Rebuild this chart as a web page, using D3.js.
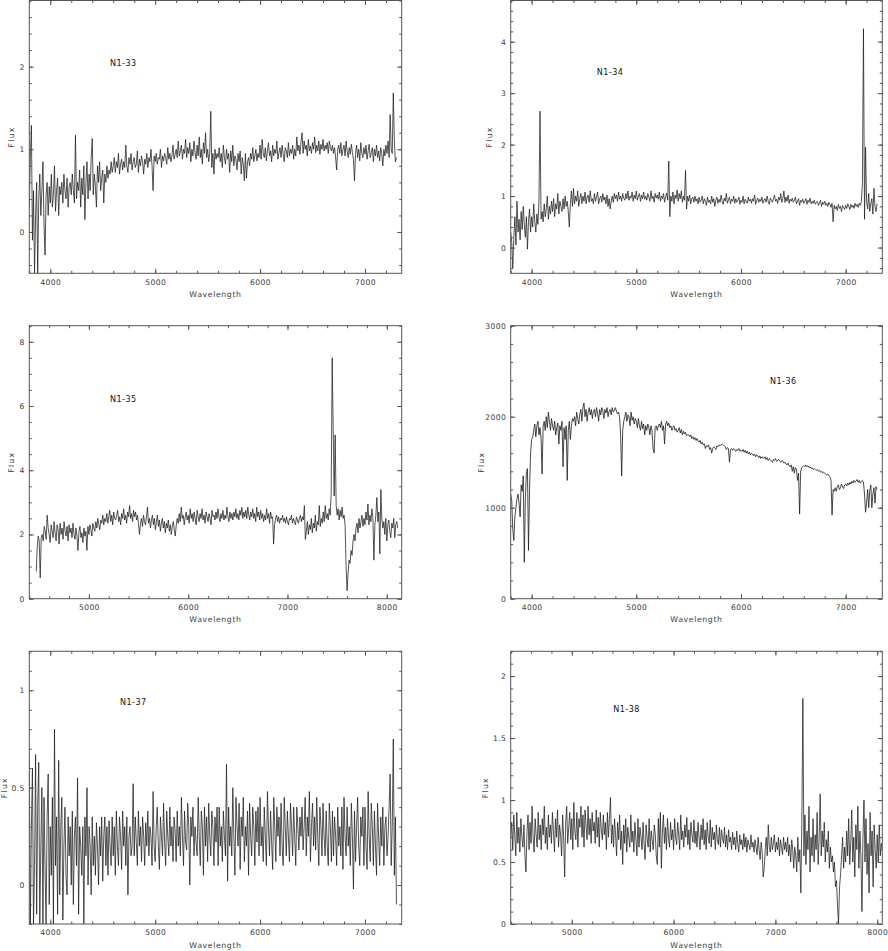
<!DOCTYPE html>
<html><head><meta charset="utf-8">
<script src="https://cdn.jsdelivr.net/npm/d3@7/dist/d3.min.js"></script>
<style>body{margin:0;background:#fff}svg{display:block}</style>
</head><body>
<svg id="c" width="888" height="951"></svg>
<script>
// ---------- DATA ----------
const titles = ["N1-33", "N1-34", "N1-35", "N1-36", "N1-37", "N1-38"];
// wavelength grid of each spectrum: first sample and sampling step (Angstrom)
const wlStart = [3800, 3800, 4470, 3800, 3800, 4400];
const wlStep = [10, 10, 10, 10, 10, 10];

const fluxN133 = [
 0.3, 0.9, 1.29, -0.1, 0.5, -0.5, 0.2, 0.6, -0.5, 0.4,
 0.7, 0.2, 0.5, 0.85, 0.1, -0.28, 0.45, 0.6, 0.2, 0.55,
 0.35, 0.7, 0.3, 0.45, 0.8, 0.25, 0.5, 0.65, 0.2, 0.55,
 0.45, 0.6, 0.35, 0.7, 0.5, 0.4, 0.65, 0.3, 0.55, 0.6,
 0.45, 0.7, 0.5, 0.35, 1.17, 0.4, 0.6, 0.5, 0.75, 0.3,
 0.65, 0.45, 0.8, 0.15, 0.6, 0.85, 0.4, 0.7, 0.5, 0.9,
 1.13, 0.45, 0.7, 0.55, 0.3, 0.8, 0.6, 0.85, 0.5, 0.65,
 0.75, 0.35, 0.7, 0.6, 0.8, 0.65, 0.75, 0.7, 0.85, 0.72,
 0.8, 0.9, 0.72, 0.85, 0.78, 0.95, 0.7, 0.82, 0.88, 0.75,
 0.85, 0.78, 1.05, 0.8, 0.72, 0.9, 0.82, 0.95, 0.75, 0.85,
 0.9, 0.78, 0.82, 0.98, 0.72, 0.88, 0.8, 0.92, 0.85, 0.7,
 0.88, 0.82, 0.95, 0.78, 0.9, 0.85, 1.0, 0.8, 0.5, 0.92,
 0.85, 0.95, 0.82, 0.9, 0.88, 1.0, 0.78, 0.92, 0.86, 0.95,
 0.9, 0.82, 1.02, 0.88, 0.95, 0.85, 0.92, 1.05, 0.88, 0.94,
 1.0, 0.9, 1.1, 0.92, 0.98, 1.05, 0.88, 1.0, 0.95, 1.12,
 0.9, 1.02, 0.95, 1.08, 0.85, 1.0, 0.92, 1.1, 0.96, 0.88,
 1.05, 0.92, 1.15, 0.9, 1.0, 0.82, 1.08, 0.95, 1.2, 0.9,
 1.0, 0.85, 0.95, 1.46, 0.78, 0.95, 0.7, 1.0, 0.88, 0.95,
 0.9, 1.02, 0.85, 0.95, 0.78, 1.05, 0.9, 0.82, 1.0, 0.88,
 0.95, 0.72, 0.98, 0.85, 1.05, 0.8, 0.92, 0.88, 0.75, 0.95,
 0.85, 0.98, 0.7, 0.9, 0.82, 0.62, 0.95, 0.65, 0.85, 0.9,
 0.8, 0.95, 0.88, 1.02, 0.85, 0.92, 1.0, 0.86, 0.95, 0.9,
 1.05, 0.88, 1.12, 0.95, 0.9, 1.02, 0.86, 0.98, 1.08, 0.92,
 0.98, 0.85, 1.05, 0.92, 1.0, 0.95, 1.1, 0.88, 0.96, 1.02,
 0.9, 1.05, 0.95, 0.85, 1.02, 0.98, 0.9, 1.08, 0.92, 1.0,
 0.95, 1.05, 0.88, 1.0, 0.92, 1.15, 0.98, 1.05, 0.94, 1.08,
 1.2, 0.95, 1.1, 1.0, 1.05, 0.92, 1.12, 0.98, 1.04, 0.95,
 1.08, 1.0, 1.15, 0.96, 1.05, 0.98, 1.1, 0.94, 1.06, 1.0,
 1.12, 0.98, 1.05, 1.0, 1.08, 0.95, 1.1, 1.02, 0.98, 1.05,
 0.95, 1.02, 0.9, 0.75, 1.0, 1.05, 0.95, 1.08, 0.92, 1.0,
 1.05, 0.92, 1.1, 0.98, 0.9, 1.02, 0.94, 1.06, 0.96, 0.88,
 0.62, 0.95, 1.05, 0.9, 1.0, 0.86, 1.08, 0.95, 0.9, 1.02,
 0.94, 1.05, 0.88, 0.98, 1.06, 0.9, 0.96, 1.02, 0.85, 1.0,
 0.92, 1.05, 0.9, 0.98, 0.86, 1.02, 0.95, 0.8, 1.0, 0.92,
 1.05, 0.95, 1.1, 0.9, 1.42, 1.0, 0.95, 1.68, 1.1, 0.85,
 0.9
];
const fluxN134 = [
 0.3, 0.1, -0.4, 0.2, 0.6, 0.05, 0.9, 0.3, 0.55, 0.15,
 0.7, 0.35, 0.8, 0.45, 0.2, 0.6, -0.03, 0.5, 0.75, 0.3,
 0.6, 0.4, 0.85, 0.5, 0.3, 0.65, 0.45, 0.9, 2.65, 0.55,
 0.7, 0.5, 0.85, 0.6, 0.75, 1.0, 0.55, 0.8, 0.65, 0.9,
 0.7, 0.95, 0.6, 0.85, 0.75, 1.05, 0.65, 0.9, 0.8, 0.7,
 0.95, 0.75, 1.0, 0.8, 0.9, 0.7, 0.4, 0.85, 1.1, 0.8,
 1.15, 0.85, 1.0, 0.9, 1.1, 0.8, 0.95, 1.05, 0.85, 1.0,
 0.9, 1.08, 0.85, 0.98, 1.02, 0.88, 1.1, 0.9, 0.95, 0.85,
 1.05, 0.9, 0.98, 1.08, 0.85, 0.95, 1.0, 0.88, 1.05, 0.92,
 0.98, 0.85, 1.02, 0.8, 0.95, 0.75, 0.9, 1.0, 0.88, 1.05,
 0.95, 1.02, 0.9, 1.08, 0.94, 1.0, 0.9, 1.05, 0.96, 0.92,
 1.05, 0.95, 1.1, 0.92, 1.0, 0.96, 1.08, 0.9, 1.02, 0.95,
 1.1, 0.92, 1.0, 1.05, 0.9, 1.02, 0.95, 1.08, 0.94, 1.0,
 0.92, 1.05, 0.98, 0.9, 1.1, 0.95, 1.0, 0.88, 1.05, 0.96,
 1.02, 0.94, 1.08, 0.9, 1.0, 0.95, 1.05, 0.88, 0.98, 1.06,
 0.92, 1.68, 0.6, 1.0, 0.9, 1.08, 0.85, 1.02, 0.95, 1.12,
 0.9, 1.05, 0.95, 1.1, 0.88, 1.0, 0.92, 1.5, 0.75, 1.0,
 0.9, 1.02, 0.85, 0.95, 0.98, 0.88, 1.0, 0.9, 0.95, 0.85,
 0.98, 0.88, 0.92, 1.0, 0.85, 0.95, 0.9, 0.82, 0.98, 0.88,
 0.92, 0.85, 1.0, 0.88, 0.95, 0.8, 0.92, 0.98, 0.86, 0.94,
 0.88, 1.02, 0.9, 0.84, 0.96, 0.9, 1.05, 0.86, 0.92, 0.98,
 0.85, 0.94, 0.9, 1.0, 0.86, 0.95, 0.88, 0.92, 0.98, 0.84,
 0.92, 0.88, 1.0, 0.85, 0.94, 0.9, 0.86, 0.98, 0.9, 0.94,
 0.86, 0.95, 0.9, 1.02, 0.84, 0.92, 0.96, 0.88, 0.94, 0.9,
 0.98, 0.86, 0.92, 0.95, 0.88, 1.0, 0.9, 0.84, 0.96, 0.92,
 0.88, 0.95, 1.02, 0.9, 0.94, 0.86, 0.98, 0.92, 1.05, 0.88,
 0.95, 1.1, 0.88, 0.98, 0.9, 1.02, 0.86, 0.94, 0.9, 0.96,
 0.88, 0.92, 0.98, 0.85, 0.9, 0.95, 0.82, 0.92, 0.88, 0.94,
 0.86, 0.9, 0.95, 0.84, 0.92, 0.88, 0.96, 0.85, 0.9, 0.86,
 0.92, 0.84, 0.88, 0.9, 0.82, 0.86, 0.92, 0.8, 0.88, 0.84,
 0.9, 0.82, 0.86, 0.8, 0.88, 0.84, 0.78, 0.86, 0.5, 0.82,
 0.75, 0.8, 0.72, 0.84, 0.76, 0.8, 0.7, 0.82, 0.78, 0.74,
 0.82, 0.76, 0.85, 0.8, 0.74, 0.84, 0.78, 0.82, 0.76, 0.86,
 0.8, 0.84, 0.78, 0.86, 0.82, 0.9, 1.25, 4.25, 0.55, 1.95,
 0.9, 0.75, 1.05, 0.7, 0.85, 0.95, 0.65, 1.15, 0.8, 0.7,
 0.85
];
const fluxN135 = [
 0.85, 1.6, 1.95, 1.8, 0.65, 1.9, 2.0, 1.8, 2.25, 2.1,
 1.85, 2.6, 2.2, 2.0, 1.75, 2.3, 2.1, 1.9, 2.4, 2.05,
 1.8, 2.3, 2.15, 1.7, 2.35, 2.0, 2.2, 1.85, 2.4, 2.1,
 1.95, 2.25, 1.8, 2.3, 2.05, 2.2, 1.9, 2.35, 2.0, 1.85,
 2.2, 1.95, 1.5, 2.1, 2.25, 1.9, 2.05, 1.75, 2.2, 1.95,
 2.1, 1.5, 2.25, 2.0, 2.3, 2.15, 1.95, 2.35, 2.2, 2.1,
 2.4, 2.2, 2.5, 2.3, 2.15, 2.45, 2.35, 2.6, 2.3, 2.5,
 2.4, 2.65, 2.35, 2.55, 2.75, 2.4, 2.6, 2.3, 2.7, 2.5,
 2.45, 2.6, 2.75, 2.4, 2.55, 2.3, 2.65, 2.5, 2.8, 2.45,
 2.6, 2.35, 2.7, 2.55, 2.9, 2.5, 2.65, 2.4, 2.75, 2.55,
 2.7, 2.45, 2.6, 2.3, 2.0, 2.35, 2.5, 2.25, 2.6, 2.4,
 2.3, 2.55, 2.85, 2.35, 2.5, 2.2, 2.45, 2.6, 2.3, 2.5,
 2.15, 2.4, 2.6, 2.25, 2.45, 2.1, 2.35, 2.5, 2.2, 2.4,
 2.05, 2.35, 2.2, 2.45, 2.1, 2.3, 2.0, 2.25, 2.4, 2.15,
 1.95, 2.3, 2.5, 2.35, 2.65, 2.4, 2.85, 2.5, 2.6, 2.3,
 2.55, 2.7, 2.45, 2.6, 2.35, 2.8, 2.5, 2.65, 2.4, 2.7,
 2.5, 2.3, 2.75, 2.55, 2.4, 2.65, 2.5, 2.8, 2.45, 2.6,
 2.35, 2.7, 2.55, 2.4, 2.65, 2.5, 2.3, 2.75, 2.55, 2.6,
 2.45, 2.7, 2.5, 2.8, 2.55, 2.4, 2.65, 2.5, 2.75, 2.45,
 2.6, 2.5, 2.85, 2.55, 2.4, 2.7, 2.5, 2.65, 2.45, 2.7,
 2.55, 2.8, 2.5, 2.65, 2.45, 2.75, 2.6, 2.85, 2.5, 2.7,
 2.55, 2.75, 2.5, 2.85, 2.6, 2.45, 2.7, 2.55, 2.8, 2.5,
 2.65, 2.4, 2.85, 2.55, 2.7, 2.45, 2.75, 2.5, 2.65, 2.4,
 2.6, 2.45, 2.8, 2.5, 2.65, 2.35, 2.7, 2.5, 2.55, 1.7,
 2.3, 2.5, 2.6, 2.4, 2.55, 2.35, 2.5, 2.45, 2.6, 2.4,
 2.5, 2.35, 2.55, 2.4, 2.3, 2.5, 2.45, 2.6, 2.35, 2.5,
 2.4, 2.3, 2.55, 2.45, 2.35, 2.5, 2.6, 2.4, 2.55, 2.45,
 2.9, 1.85, 2.1, 2.4, 2.0, 2.3, 2.15, 2.5, 2.05, 2.35,
 2.2, 2.6, 2.1, 2.4, 2.3, 2.9, 2.25, 2.5, 2.35, 2.7,
 2.4, 2.9, 2.5, 2.65, 2.45, 2.8, 2.6, 3.3, 7.5, 5.3,
 3.2, 5.1, 2.9, 2.6, 2.8, 2.45, 2.75, 2.55, 2.85, 2.5,
 2.6, 2.3, 1.0, 0.25, 0.8, 1.2, 1.1, 1.5, 1.35, 1.8,
 2.0, 1.8, 2.2, 2.35, 2.05, 2.5, 2.2, 2.4, 2.6, 2.25,
 2.5, 2.3, 2.7, 2.45, 2.95, 2.3, 2.6, 2.4, 2.8, 2.5,
 1.2, 2.3, 2.6, 3.15, 2.4, 2.7, 1.4, 3.4, 2.5, 2.2,
 2.4, 2.0, 2.5, 1.8, 2.3, 2.45, 2.1, 1.9, 2.35, 2.2,
 2.5, 1.9, 2.3, 2.4, 2.2
];
const fluxN136 = [
 1150, 1080, 760, 640, 900, 1000, 1100, 1150, 1050, 900,
 1250, 1180, 1350, 400, 1100, 1380, 1430, 530, 1200, 1600,
 1750, 1780, 1850, 1920, 1780, 1900, 1950, 1800, 1880, 1760,
 1370, 1900, 1950, 1850, 2000, 1880, 2050, 1950, 1850, 1980,
 1900, 1850, 1950, 1800, 1880, 1930, 1700, 1900, 1850, 1950,
 1450, 1880, 1750, 1900, 1300, 1850, 1950, 1750, 1900, 1980,
 1950, 2000, 1900, 2050, 1980, 1920, 2030, 2080, 1950, 2100,
 2150, 2000, 2080, 1950, 2050, 2100, 2020, 2080, 1980, 2060,
 2080, 2000, 2100, 2040, 1950, 2080, 2020, 2100, 2060, 1980,
 2080, 2040, 2100, 2000, 2060, 2080, 2020, 2100, 2050, 2070,
 2100, 2060, 2030, 2050, 2000, 1800, 1350, 1850, 1950, 2000,
 2050, 1950, 2020, 2000, 1900, 2050, 1960, 2000, 1920, 1980,
 1950, 1880, 1980, 1900, 1850, 1950, 1870, 1920, 1800, 1900,
 1850, 1920, 1880, 1800, 1900, 1850, 1650, 1600, 1880, 1900,
 1850, 1900, 1920, 1880, 1950, 1850, 1900, 1700, 1920, 1950,
 1900, 1930, 1880, 1900, 1850, 1880, 1900, 1850, 1870, 1830,
 1850, 1880, 1820, 1860, 1800, 1840, 1810, 1830, 1790, 1800,
 1800, 1780, 1800, 1760, 1780, 1750, 1770, 1740, 1760, 1730,
 1720, 1740, 1700, 1720, 1690, 1700, 1650, 1680, 1670, 1690,
 1640, 1660, 1600, 1650, 1670, 1660, 1640, 1680, 1670, 1690,
 1680, 1690, 1700, 1690, 1680, 1670, 1640, 1660, 1650, 1500,
 1640, 1650, 1630, 1650, 1640, 1620, 1640, 1630, 1650, 1620,
 1630, 1620, 1640, 1610, 1630, 1600, 1620, 1590, 1610, 1580,
 1600, 1590, 1570, 1590, 1560, 1580, 1570, 1550, 1570, 1540,
 1560, 1550, 1540, 1560, 1530, 1550, 1520, 1540, 1530, 1510,
 1500, 1530, 1520, 1540, 1510, 1520, 1530, 1510, 1500, 1520,
 1510, 1490, 1500, 1480, 1470, 1490, 1460, 1450, 1470, 1400,
 1450, 1380, 1440, 1420, 1300, 1380, 930, 1400, 1440, 1450,
 1460, 1450, 1470, 1450, 1460, 1440, 1450, 1430, 1440, 1420,
 1430, 1420, 1410, 1420, 1400, 1410, 1390, 1400, 1380, 1390,
 1380, 1370, 1360, 1370, 1350, 1340, 1300, 920, 1200, 1180,
 1220, 1180, 1230, 1250, 1200, 1220, 1260, 1230, 1210, 1250,
 1260, 1240, 1270, 1250, 1280, 1260, 1290, 1270, 1300, 1280,
 1290, 1310, 1280, 1300, 1270, 1290, 1300, 1280, 1150, 950,
 1050, 1200, 1000, 1180, 1250, 1000, 1150, 1220, 1050, 1230,
 1200
];
const fluxN137 = [
 0.65, -0.2, 0.3, 0.6, -0.2, 0.1, 0.67, -0.15, 0.4, 0.63,
 -0.2, 0.2, 0.5, -0.2, 0.45, 0.1, -0.2, 0.35, 0.57, -0.1,
 0.3, 0.05, 0.45, -0.2, 0.8, 0.1, 0.35, -0.15, 0.64, -0.05,
 0.3, 0.45, -0.18, 0.2, 0.4, 0.05, -0.05, 0.35, 0.15, 0.3,
 0.0, 0.38, -0.1, 0.25, 0.35, 0.1, 0.55, -0.15, 0.3, 0.2,
 0.05, 0.3, -0.2, 0.35, 0.15, 0.5, 0.0, 0.3, 0.2, -0.05,
 0.35, 0.1, 0.25, 0.05, 0.32, 0.2, 0.0, 0.3, 0.15, 0.35,
 0.02, 0.25, 0.35, 0.1, 0.3, 0.05, 0.33, 0.2, 0.1, 0.35,
 0.15, 0.3, 0.05, 0.38, 0.2, 0.1, 0.35, 0.25, 0.08, 0.38,
 0.2, 0.3, 0.1, 0.35, -0.05, 0.25, 0.3, 0.15, 0.2, 0.52,
 0.15, 0.35, 0.22, 0.1, 0.38, 0.2, 0.3, 0.12, 0.35, 0.25,
 0.1, 0.32, 0.2, 0.38, 0.15, 0.3, 0.25, 0.1, 0.48, 0.2,
 0.12, 0.3, 0.4, 0.2, 0.08, 0.35, 0.25, 0.15, 0.42, 0.22,
 0.1, 0.38, 0.25, 0.15, 0.4, 0.2, 0.3, 0.12, 0.35, 0.28,
 0.12, 0.38, 0.2, 0.3, 0.15, 0.45, 0.25, 0.1, 0.38, 0.22,
 0.18, 0.42, 0.3, 0.0, 0.35, 0.25, 0.4, 0.15, 0.3, 0.22,
 0.15, 0.45, 0.25, 0.1, 0.38, 0.3, 0.05, 0.4, 0.2, 0.35,
 0.12, 0.42, 0.25, 0.15, 0.38, 0.3, 0.1, 0.35, 0.22, 0.4,
 0.1, 0.4, 0.2, 0.3, 0.12, 0.38, 0.25, 0.15, 0.62, 0.02,
 0.4, 0.2, 0.3, 0.15, 0.5, 0.25, 0.05, 0.45, 0.3, 0.2,
 0.42, 0.08, 0.35, 0.25, 0.45, 0.12, 0.3, 0.2, 0.38, 0.05,
 0.42, 0.25, 0.15, 0.4, 0.3, 0.1, 0.38, 0.22, 0.4, 0.15,
 0.45, 0.2, 0.3, 0.12, 0.4, 0.25, 0.1, 0.48, 0.3, 0.15,
 0.38, 0.22, 0.08, 0.45, 0.3, 0.12, 0.4, 0.25, 0.35, 0.15,
 0.42, 0.2, 0.1, 0.45, 0.3, 0.15, 0.38, 0.25, 0.12, 0.42,
 0.3, 0.15, 0.4, 0.25, 0.1, 0.4, 0.3, 0.18, 0.35, 0.25,
 0.4, 0.18, 0.3, 0.45, 0.15, 0.35, 0.25, 0.48, 0.12, 0.3,
 0.42, 0.2, 0.35, 0.18, 0.45, 0.25, 0.1, 0.4, 0.3, 0.15,
 0.42, 0.25, 0.15, 0.38, 0.2, 0.1, 0.42, 0.3, 0.12, 0.38,
 0.15, 0.35, 0.25, 0.1, 0.4, 0.2, 0.3, 0.15, 0.4, 0.08,
 0.45, 0.25, 0.15, 0.4, 0.2, 0.3, 0.1, 0.42, 0.25, -0.02,
 0.38, 0.12, 0.3, 0.45, 0.2, 0.1, 0.35, 0.25, 0.4, 0.1,
 0.4, 0.2, 0.08, 0.48, 0.25, 0.12, 0.42, 0.3, 0.1, 0.38,
 0.2, 0.05, 0.42, 0.25, 0.1, 0.35, 0.2, 0.4, 0.1, 0.3,
 0.35, 0.15, 0.25, 0.4, 0.57, 0.1, 0.3, 0.75, 0.05, 0.35,
 -0.1
];
const fluxN138 = [
 0.7, 0.82, 0.6, 0.88, 0.72, 0.55, 0.9, 0.65, 0.78, 0.58,
 0.85, 0.7, 0.62, 0.8, 0.55, 0.42, 0.75, 0.88, 0.6, 0.82,
 0.65, 0.95, 0.7, 0.58, 0.85, 0.72, 0.62, 0.9, 0.68, 0.8,
 0.6, 0.85, 0.72, 0.95, 0.65, 0.78, 0.6, 0.88, 0.7, 0.8,
 0.65, 0.9, 0.75, 0.58, 0.85, 0.7, 0.92, 0.62, 0.8, 0.72,
 0.55, 0.88, 0.7, 0.38, 0.82, 0.95, 0.65, 0.78, 0.9, 0.68,
 0.85, 0.6, 0.98, 0.75, 0.68, 0.9, 0.62, 0.85, 0.78, 0.95,
 0.7, 0.88, 0.62, 0.92, 0.8, 0.68, 0.95, 0.72, 0.85, 0.65,
 0.9, 0.75, 0.82, 0.65, 0.92, 0.7, 0.86, 0.62, 0.9, 0.76,
 0.68, 0.88, 0.72, 0.82, 0.6, 0.9, 0.7, 0.85, 1.02, 0.65,
 0.8, 0.62, 0.85, 0.72, 0.55, 0.82, 0.68, 0.88, 0.6, 0.75,
 0.48, 0.8, 0.65, 0.85, 0.58, 0.78, 0.7, 0.62, 0.88, 0.66,
 0.75, 0.58, 0.82, 0.68, 0.55, 0.85, 0.62, 0.78, 0.7, 0.6,
 0.82, 0.65, 0.52, 0.8, 0.7, 0.62, 0.85, 0.58, 0.75, 0.68,
 0.6, 0.8, 0.72, 0.55, 0.48, 0.85, 0.62, 0.9, 0.45, 0.75,
 0.88, 0.65, 0.78, 0.6, 0.85, 0.7, 0.62, 0.82, 0.68, 0.76,
 0.6, 0.85, 0.7, 0.64, 0.82, 0.72, 0.6, 0.88, 0.68, 0.75,
 0.62, 0.8, 0.7, 0.86, 0.64, 0.76, 0.6, 0.82, 0.72, 0.66,
 0.84, 0.65, 0.75, 0.62, 0.82, 0.7, 0.6, 0.8, 0.68, 0.85,
 0.64, 0.76, 0.6, 0.82, 0.7, 0.65, 0.84, 0.62, 0.78, 0.68,
 0.74, 0.6, 0.8, 0.68, 0.64, 0.78, 0.62, 0.76, 0.7, 0.65,
 0.78, 0.62, 0.72, 0.6, 0.76, 0.66, 0.7, 0.6, 0.74, 0.64,
 0.7, 0.6, 0.75, 0.65, 0.58, 0.72, 0.64, 0.68, 0.6, 0.73,
 0.62, 0.7, 0.58, 0.68, 0.64, 0.6, 0.72, 0.62, 0.66, 0.58,
 0.68, 0.62, 0.56, 0.7, 0.6, 0.52, 0.66, 0.58, 0.38, 0.45,
 0.6, 0.7, 0.55, 0.8, 0.62, 0.58, 0.7, 0.6, 0.65, 0.72,
 0.58, 0.66, 0.6, 0.7, 0.55, 0.68, 0.62, 0.56, 0.7, 0.6,
 0.66, 0.58, 0.7, 0.55, 0.64, 0.5, 0.68, 0.6, 0.45, 0.62,
 0.55, 0.42, 0.7, 0.5, 0.6, 0.25, 0.85, 1.82, 0.55, 0.88,
 0.48, 0.75, 0.6, 0.95, 0.42, 0.7, 0.55, 0.85, 0.5, 0.72,
 0.6, 0.9, 0.48, 0.7, 1.05, 0.55, 0.75, 0.62, 0.82, 0.5,
 0.68, 0.58, 0.75, 0.45, 0.62, 0.5, 0.55, 0.42, 0.5, 0.3,
 0.35, 0.15, 0.0, 0.3, 0.4, 0.55, 0.7, 0.45, 0.62, 0.5,
 0.75, 0.55, 0.85, 0.48, 0.65, 0.92, 0.5, 0.7, 0.38, 0.8,
 0.6, 0.95, 0.45, 0.75, 0.55, 0.1, 0.7, 1.0, 0.5, 0.85,
 0.4, 0.65, 0.25, 0.9, 0.55, 0.75, 0.3, 0.8, 0.6, 0.45,
 0.72, 0.5, 0.8, 0.55, 0.65, 0.6
];

// axis ranges and labelled ticks
const xDomains = [[3800, 7350], [3800, 7350], [4400, 8150], [3800, 7350], [3800, 7350], [4400, 8050]];
const yDomains = [[-0.5, 2.8], [-0.5, 4.8], [0, 8.5], [0, 3000], [-0.2, 1.2], [0, 2.2]];
const xTickLabels = [
 [4000, 5000, 6000, 7000], [4000, 5000, 6000, 7000], [5000, 6000, 7000, 8000],
 [4000, 5000, 6000, 7000], [4000, 5000, 6000, 7000], [5000, 6000, 7000, 8000]
];
const yTickLabels = [[0, 1, 2], [0, 1, 2, 3, 4], [0, 2, 4, 6, 8], [0, 1000, 2000, 3000], [0, 0.5, 1], [0, 0.5, 1, 1.5, 2]];
const yMinorStep = [0.2, 0.2, 0.5, 200, 0.1, 0.1];
const xMinorStep = 200;
const fluxes = [fluxN133, fluxN134, fluxN135, fluxN136, fluxN137, fluxN138];

// ---------- LAYOUT ----------
const boxes = [ // [left, top, right, bottom]
 [29.3, 0.5, 401.7, 273.3], [510.7, 0.5, 882.3, 273.3],
 [29.3, 325.7, 401.7, 598.7], [510.7, 325.7, 882.3, 598.7],
 [29.3, 651.3, 401.7, 924], [510.7, 651.3, 882.3, 924]
];
const fluxLabelOffset = [17.6, 21.7, 17.6, 29, 25, 25.5];
const titlePos = [[110, 66], [596.7, 75.3], [110, 402], [770, 384.3], [120, 705], [613.3, 711.7]];

const FONT = "DejaVu Sans, Verdana, sans-serif";
const AXC = "#555", TXC = "#3a3a3a";
const svg = d3.select("#c");

boxes.forEach((b, k) => {
  const [L, T, R, B] = b;
  const g = svg.append("g");
  const x = d3.scaleLinear().domain(xDomains[k]).range([L, R]);
  const y = d3.scaleLinear().domain(yDomains[k]).range([B, T]);
  const xd = xDomains[k], yd = yDomains[k];
  const xMin = d3.range(Math.ceil(xd[0] / xMinorStep) * xMinorStep, xd[1] + 1e-6, xMinorStep);
  const ys = yMinorStep[k];
  const yMin = d3.range(Math.ceil(yd[0] / ys - 1e-9), Math.floor(yd[1] / ys + 1e-9) + 1).map(i => +(i * ys).toFixed(6));

  // clip + spectrum
  const cid = "clip" + k;
  svg.append("clipPath").attr("id", cid).append("rect")
    .attr("x", L).attr("y", T).attr("width", R - L).attr("height", B - T);
  const st = wlStart[k], sp = wlStep[k];
  const line = d3.line().x((d, i) => x(st + i * sp)).y(d => y(d));
  g.append("path").datum(fluxes[k]).attr("clip-path", `url(#${cid})`)
    .attr("d", line).attr("fill", "none").attr("stroke", "#1c1c1c")
    .attr("stroke-width", k === 3 ? 0.8 : 0.75).attr("stroke-linejoin", "miter");

  const style = sel => {
    sel.select(".domain").remove();
    sel.selectAll("line").attr("stroke", AXC).attr("stroke-width", 1);
    sel.selectAll("text").attr("fill", TXC).style("font-family", FONT)
      .style("font-size", "7.6px").style("letter-spacing", "0.4px");
  };
  const fmt = d3.format("~g");
  // bottom
  g.append("g").attr("transform", `translate(0,${B})`)
    .call(d3.axisBottom(x).tickValues(xMin).tickSize(-2.5).tickSizeOuter(0).tickFormat("")).call(style);
  g.append("g").attr("transform", `translate(0,${B})`)
    .call(d3.axisBottom(x).tickValues(xTickLabels[k]).tickSize(-4.5).tickSizeOuter(0).tickPadding(6).tickFormat(d3.format("d"))).call(style);
  // top
  g.append("g").attr("transform", `translate(0,${T})`)
    .call(d3.axisTop(x).tickValues(xMin).tickSize(-2.5).tickSizeOuter(0).tickFormat("")).call(style);
  g.append("g").attr("transform", `translate(0,${T})`)
    .call(d3.axisTop(x).tickValues(xTickLabels[k]).tickSize(-4.5).tickSizeOuter(0).tickFormat("")).call(style);
  // left
  g.append("g").attr("transform", `translate(${L},0)`)
    .call(d3.axisLeft(y).tickValues(yMin).tickSize(-2.5).tickSizeOuter(0).tickFormat("")).call(style);
  g.append("g").attr("transform", `translate(${L},0)`)
    .call(d3.axisLeft(y).tickValues(yTickLabels[k]).tickSize(-4.5).tickSizeOuter(0).tickPadding(4.5).tickFormat(fmt)).call(style);
  // right
  g.append("g").attr("transform", `translate(${R},0)`)
    .call(d3.axisRight(y).tickValues(yMin).tickSize(-2.5).tickSizeOuter(0).tickFormat("")).call(style);
  g.append("g").attr("transform", `translate(${R},0)`)
    .call(d3.axisRight(y).tickValues(yTickLabels[k]).tickSize(-4.5).tickSizeOuter(0).tickFormat("")).call(style);

  // frame
  g.append("rect").attr("x", L).attr("y", T).attr("width", R - L).attr("height", B - T)
    .attr("fill", "none").attr("stroke", AXC).attr("stroke-width", 1);

  // axis titles
  g.append("text").attr("x", (L + R) / 2).attr("y", B + 23.5).attr("text-anchor", "middle")
    .attr("fill", TXC).style("font-family", FONT).style("font-size", "7.8px").style("letter-spacing", "0.6px")
    .text("Wavelength");
  const fx = L - fluxLabelOffset[k], fy = (T + B) / 2;
  g.append("text").attr("transform", `translate(${fx},${fy}) rotate(-90)`).attr("text-anchor", "middle")
    .attr("dominant-baseline", "central")
    .attr("fill", TXC).style("font-family", FONT).style("font-size", "7.8px").style("letter-spacing", "1.2px")
    .text("Flux");
  // object name
  g.append("text").attr("x", titlePos[k][0]).attr("y", titlePos[k][1])
    .attr("fill", "#111").style("font-family", FONT).style("font-size", "8px").style("letter-spacing", "0.5px")
    .text(titles[k]);
});
</script>
</body></html>
